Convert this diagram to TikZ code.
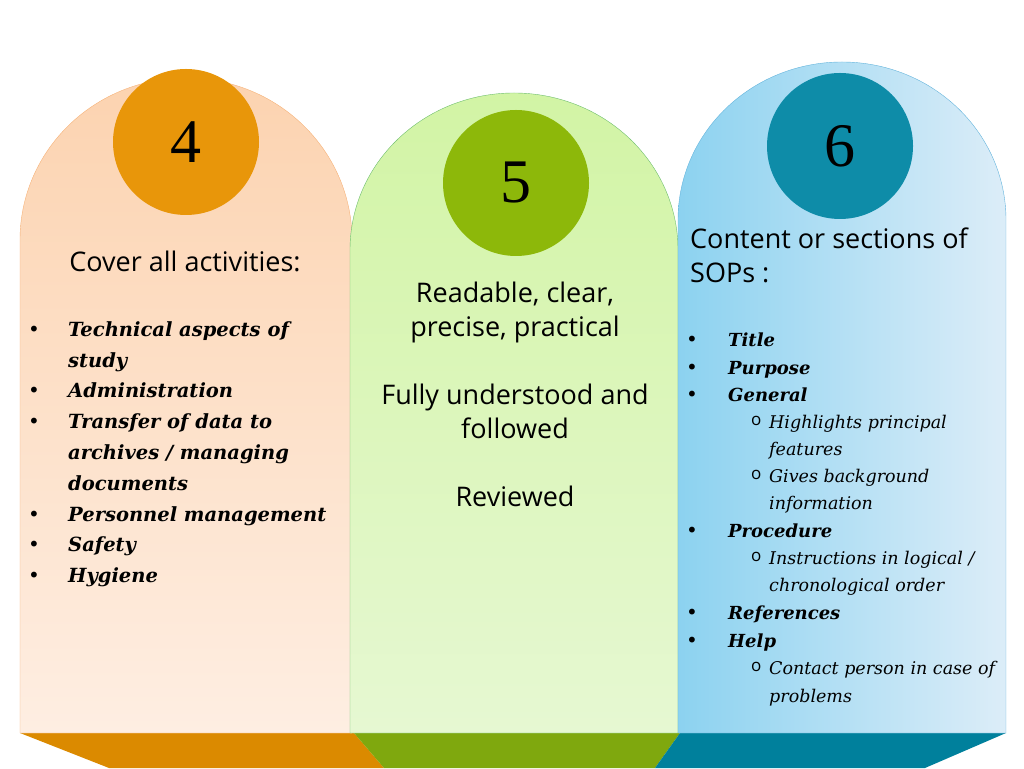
\documentclass[tikz,border=0pt]{standalone}
\usepackage{fontspec}
\setmainfont{DejaVu Serif}
\setsansfont{Open Sans}
\newfontfamily\numfont{Liberation Serif}
\usetikzlibrary{positioning}
\definecolor{orgA}{HTML}{E8960A}
\definecolor{orgB}{HTML}{DB8A00}
\definecolor{grnA}{HTML}{8DB80A}
\definecolor{grnB}{HTML}{7FA80E}
\definecolor{bluA}{HTML}{0E8CA8}
\definecolor{bluB}{HTML}{00809C}
\tikzset{
  num/.style={circle,minimum size=146pt,inner sep=0pt,font=\numfont\fontsize{62}{62}\selectfont},
  head/.style={font=\sffamily\fontsize{27}{34}\selectfont,inner sep=0pt},
  item/.style={anchor=base west,inner sep=0pt,font=\bfseries\itshape\fontsize{19.5}{19.5}\selectfont},
  sitem/.style={anchor=base west,inner sep=0pt,font=\bfseries\itshape\fontsize{18}{18}\selectfont},
  sub/.style={anchor=base west,inner sep=0pt,font=\itshape\fontsize{17.5}{17.5}\selectfont},
  dot/.style={anchor=base west,inner sep=0pt,font=\fontsize{20}{20}\selectfont}
}
\begin{document}
\begin{tikzpicture}[x=1pt,y=1pt]
  \useasboundingbox (0,0) rectangle (1024,768);
  % base
  \fill[orgB] (20,35) -- (354,35) -- (384,0) -- (109,0) -- cycle;
  \fill[grnB] (354,35) -- (680,35) -- (655,0) -- (384,0) -- cycle;
  \fill[bluB] (680,35) -- (1006,35) -- (925,0) -- (655,0) -- cycle;
  % panels
  \shade[top color={rgb,255:red,252;green,211;blue,176},bottom color={rgb,255:red,254;green,238;blue,226},draw={rgb,255:red,246;green,178;blue,120},thin]
    (20,35) -- (20,528) arc[start angle=180,end angle=0,x radius=166,y radius=162] -- (352,35) -- cycle;
  \shade[top color={rgb,255:red,210;green,244;blue,165},bottom color={rgb,255:red,230;green,248;blue,210},draw={rgb,255:red,110;green,190;blue,110},thin]
    (350,35) -- (350,518) arc[start angle=180,end angle=0,x radius=164,y radius=157] -- (678,35) -- cycle;
  \shade[left color={rgb,255:red,140;green,210;blue,240},right color={rgb,255:red,220;green,237;blue,248},draw={rgb,255:red,100;green,180;blue,220},thin]
    (678,35) -- (678,548) arc[start angle=180,end angle=0,x radius=164,y radius=158] -- (1006,35) -- cycle;
  % circles
  \node[num,fill=orgA] (n4) at (186,626) {4};
  \node[num,fill=grnA] (n5) at (516,585) {5};
  \node[num,fill=bluA] (n6) at (840,622) {6};
  % left panel
  \node[head,anchor=base] (h4) at (185,496) {Cover all activities:};
  \foreach \y/\t [count=\i] in {431/{Technical aspects of},400/{study},370/{Administration},339/{Transfer of data to},
                     308/{archives / managing},277/{documents},246/{Personnel management},216/{Safety},185/{Hygiene}}
    \node[item] (l\i) at (68,\y) {\t};
  \foreach \y [count=\i] in {431,370,339,246,216,185}
    \node[dot] (lb\i) at (28,\y) {•};
  % middle panel
  \node[head,align=center,anchor=north] (t5) at (515,486)
    {Readable, clear,\\precise, practical\\[34pt]Fully understood and\\followed\\[34pt]Reviewed};
  % right panel
  \node[head,align=left,anchor=north west] (h6) at (690,540) {Content or sections of\\SOPs :};
  \foreach \y/\t [count=\i] in {421/Title,393/Purpose,366/General,230/Procedure,148/References,121/Help}{
    \node[dot] (rb\i) at (686,\y) {•};
    \node[sitem] (r\i) at (728,\y) {\t};}
  \foreach \y/\t [count=\i] in {339/{Highlights principal},312/{features},285/{Gives background},258/{information},
                     203/{Instructions in logical /},176/{chronological order},94/{Contact person in case of},66/{problems}}
    \node[sub] (s\i) at (769,\y) {\t};
  \foreach \y [count=\i] in {339,285,203,94}
    \node[sub,font=\sffamily\fontsize{17}{17}\selectfont] (so\i) at (751,\y+3) {o};
\end{tikzpicture}
\end{document}
